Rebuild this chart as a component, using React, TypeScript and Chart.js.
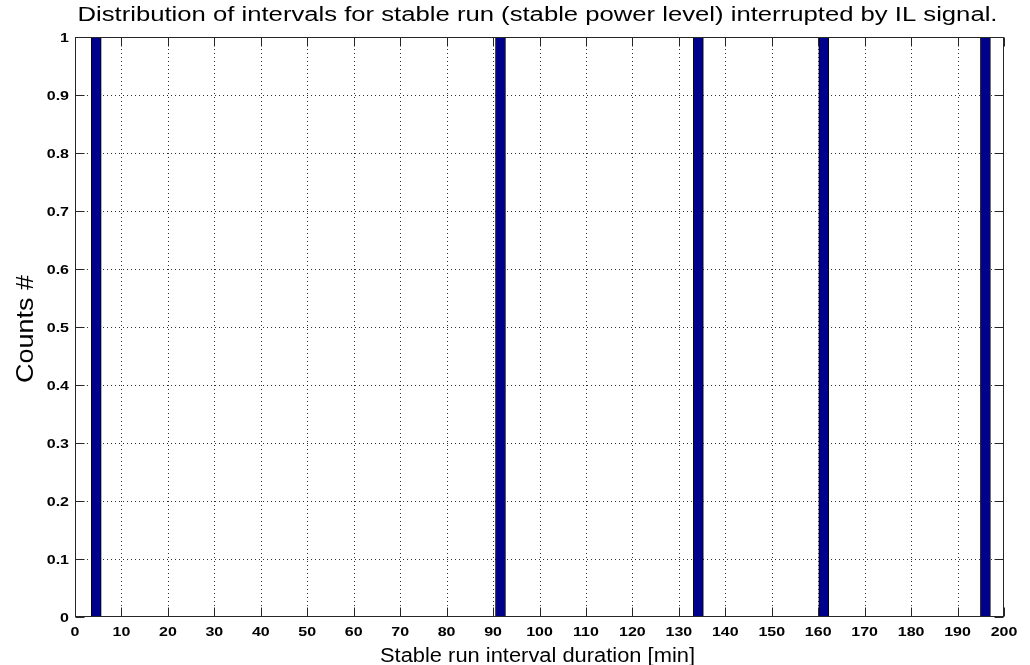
import React, { useEffect, useRef } from "react";
import { Chart, registerables } from "chart.js";

Chart.register(...registerables);

// ---- data ----
const binCenters = [4.57, 91.6, 134.2, 161.2, 196.0];
const counts = [1, 1, 1, 1, 1];
const xTickValues = [0, 10, 20, 30, 40, 50, 60, 70, 80, 90, 100, 110, 120, 130, 140, 150, 160, 170, 180, 190, 200];
const yTickValues = [0, 0.1, 0.2, 0.3, 0.4, 0.5, 0.6, 0.7, 0.8, 0.9, 1];
const yTickLabels = ["0", "0.1", "0.2", "0.3", "0.4", "0.5", "0.6", "0.7", "0.8", "0.9", "1"];
const titleText = "Distribution of intervals for stable run (stable power level) interrupted by IL signal.";
const xLabelText = "Stable run interval duration [min]";
const yLabelText = "Counts #";

const FONT = '"Liberation Sans", Arial, Helvetica, sans-serif';
const AXIS_COLOR = "#262626";
const TICK_LEN = 9;
const TICK_SX = 1.23;

function stretchedText(
  ctx: CanvasRenderingContext2D,
  text: string,
  x: number,
  y: number,
  font: string,
  align: CanvasTextAlign,
  opts: { sx?: number; targetWidth?: number; rotate?: number; sy?: number }
) {
  ctx.save();
  ctx.font = font;
  ctx.fillStyle = "#000";
  ctx.textAlign = align;
  ctx.textBaseline = "alphabetic";
  let sx = opts.sx ?? 1;
  if (opts.targetWidth) {
    const w = ctx.measureText(text).width;
    sx = opts.targetWidth / w;
  }
  ctx.translate(x, y);
  if (opts.rotate) ctx.rotate(opts.rotate);
  ctx.scale(sx, opts.sy ?? 1);
  ctx.fillText(text, 0, 0);
  ctx.restore();
}

const matlabPlugin = {
  id: "matlabStyle",
  beforeDatasetsDraw(chart: any) {
    const { ctx, chartArea: a, scales } = chart;
    const x = scales.x;
    const y = scales.y;
    ctx.save();
    ctx.strokeStyle = "rgba(0,0,0,0.8)";
    ctx.lineWidth = 1;
    ctx.setLineDash([1, 3]);
    x.ticks.forEach((t: any, i: number) => {
      if (i === 0 || i === x.ticks.length - 1) return;
      const px = Math.round(x.getPixelForValue(t.value)) + 0.5;
      ctx.beginPath();
      ctx.moveTo(px, a.top);
      ctx.lineTo(px, a.bottom);
      ctx.stroke();
    });
    y.ticks.forEach((t: any, i: number) => {
      if (i === 0 || i === y.ticks.length - 1) return;
      const py = Math.round(y.getPixelForValue(t.value)) + 0.5;
      ctx.beginPath();
      ctx.moveTo(a.left, py);
      ctx.lineTo(a.right, py);
      ctx.stroke();
    });
    ctx.restore();
  },
  afterDatasetsDraw(chart: any) {
    const { ctx, chartArea: a, scales } = chart;
    const x = scales.x;
    const y = scales.y;
    ctx.save();
    ctx.strokeStyle = AXIS_COLOR;
    ctx.lineWidth = 1;
    ctx.setLineDash([]);
    // box
    const L = Math.round(a.left) + 0.5;
    const R = Math.round(a.right) - 0.5;
    const T = Math.round(a.top) + 0.5;
    const B = Math.round(a.bottom) - 0.5;
    ctx.strokeRect(L, T, R - L, B - T);
    // inward ticks
    ctx.beginPath();
    x.ticks.forEach((t: any) => {
      const px = Math.round(x.getPixelForValue(t.value)) + 0.5;
      ctx.moveTo(px, B);
      ctx.lineTo(px, B - TICK_LEN);
      ctx.moveTo(px, T);
      ctx.lineTo(px, T + TICK_LEN);
    });
    y.ticks.forEach((t: any) => {
      const py = Math.round(y.getPixelForValue(t.value)) + 0.5;
      ctx.moveTo(L, py);
      ctx.lineTo(L + TICK_LEN, py);
      ctx.moveTo(R, py);
      ctx.lineTo(R - TICK_LEN, py);
    });
    ctx.stroke();
    ctx.restore();

    const tickFont = `bold 13px ${FONT}`;
    // x tick labels
    x.ticks.forEach((t: any) => {
      const px = x.getPixelForValue(t.value);
      stretchedText(ctx, String(t.value), px, a.bottom + 19, tickFont, "center", { sx: TICK_SX });
    });
    // y tick labels
    y.ticks.forEach((t: any, i: number) => {
      const py = y.getPixelForValue(t.value);
      stretchedText(ctx, yTickLabels[i], a.left - 6, py + 4.5, tickFont, "right", { sx: TICK_SX });
    });
    // title
    stretchedText(ctx, titleText, (a.left + a.right) / 2 - 2, 21, `19.5px ${FONT}`, "center", { targetWidth: 920 });
    // x label
    stretchedText(ctx, xLabelText, (a.left + a.right) / 2 - 2, 662, `20px ${FONT}`, "center", { targetWidth: 315 });
    // y label
    stretchedText(ctx, yLabelText, 32.5, (a.top + a.bottom) / 2 + 2, `19.5px ${FONT}`, "center", {
      targetWidth: 108,
      rotate: -Math.PI / 2,
      sy: 1.2,
    });
  },
};

export default function App() {
  const canvasRef = useRef<HTMLCanvasElement | null>(null);

  useEffect(() => {
    document.body.style.margin = "0";
    const canvas = canvasRef.current;
    if (!canvas) return;
    const chart = new Chart(canvas, {
      type: "bar",
      data: {
        datasets: [
          {
            data: binCenters.map((c, i) => ({ x: c, y: counts[i] })),
            backgroundColor: "#00008F",
            borderColor: "#000000",
            borderWidth: 1,
            borderSkipped: false,
            barThickness: 10,
          } as any,
        ],
      },
      options: {
        animation: false,
        responsive: false,
        devicePixelRatio: 1,
        layout: { padding: { top: 37, right: 26, left: 0, bottom: 0 } },
        plugins: {
          legend: { display: false },
          title: { display: false },
          tooltip: { enabled: false },
        },
        scales: {
          x: {
            type: "linear",
            min: 0,
            max: 200,
            offset: false,
            grid: { display: false },
            border: { display: false },
            ticks: { display: false },
            afterBuildTicks: (s: any) => {
              s.ticks = xTickValues.map((v) => ({ value: v }));
            },
            afterFit: (s: any) => {
              s.height = 48;
            },
          },
          y: {
            type: "linear",
            min: 0,
            max: 1,
            grid: { display: false },
            border: { display: false },
            ticks: { display: false },
            afterBuildTicks: (s: any) => {
              s.ticks = yTickValues.map((v) => ({ value: v }));
            },
            afterFit: (s: any) => {
              s.width = 75;
            },
          },
        },
      },
      plugins: [matlabPlugin],
    });
    return () => chart.destroy();
  }, []);

  return (
    <div style={{ position: "absolute", left: 0, top: 0, width: 1030, height: 665, background: "#fff" }}>
      <canvas ref={canvasRef} width={1030} height={665} style={{ width: 1030, height: 665, display: "block" }} />
    </div>
  );
}
